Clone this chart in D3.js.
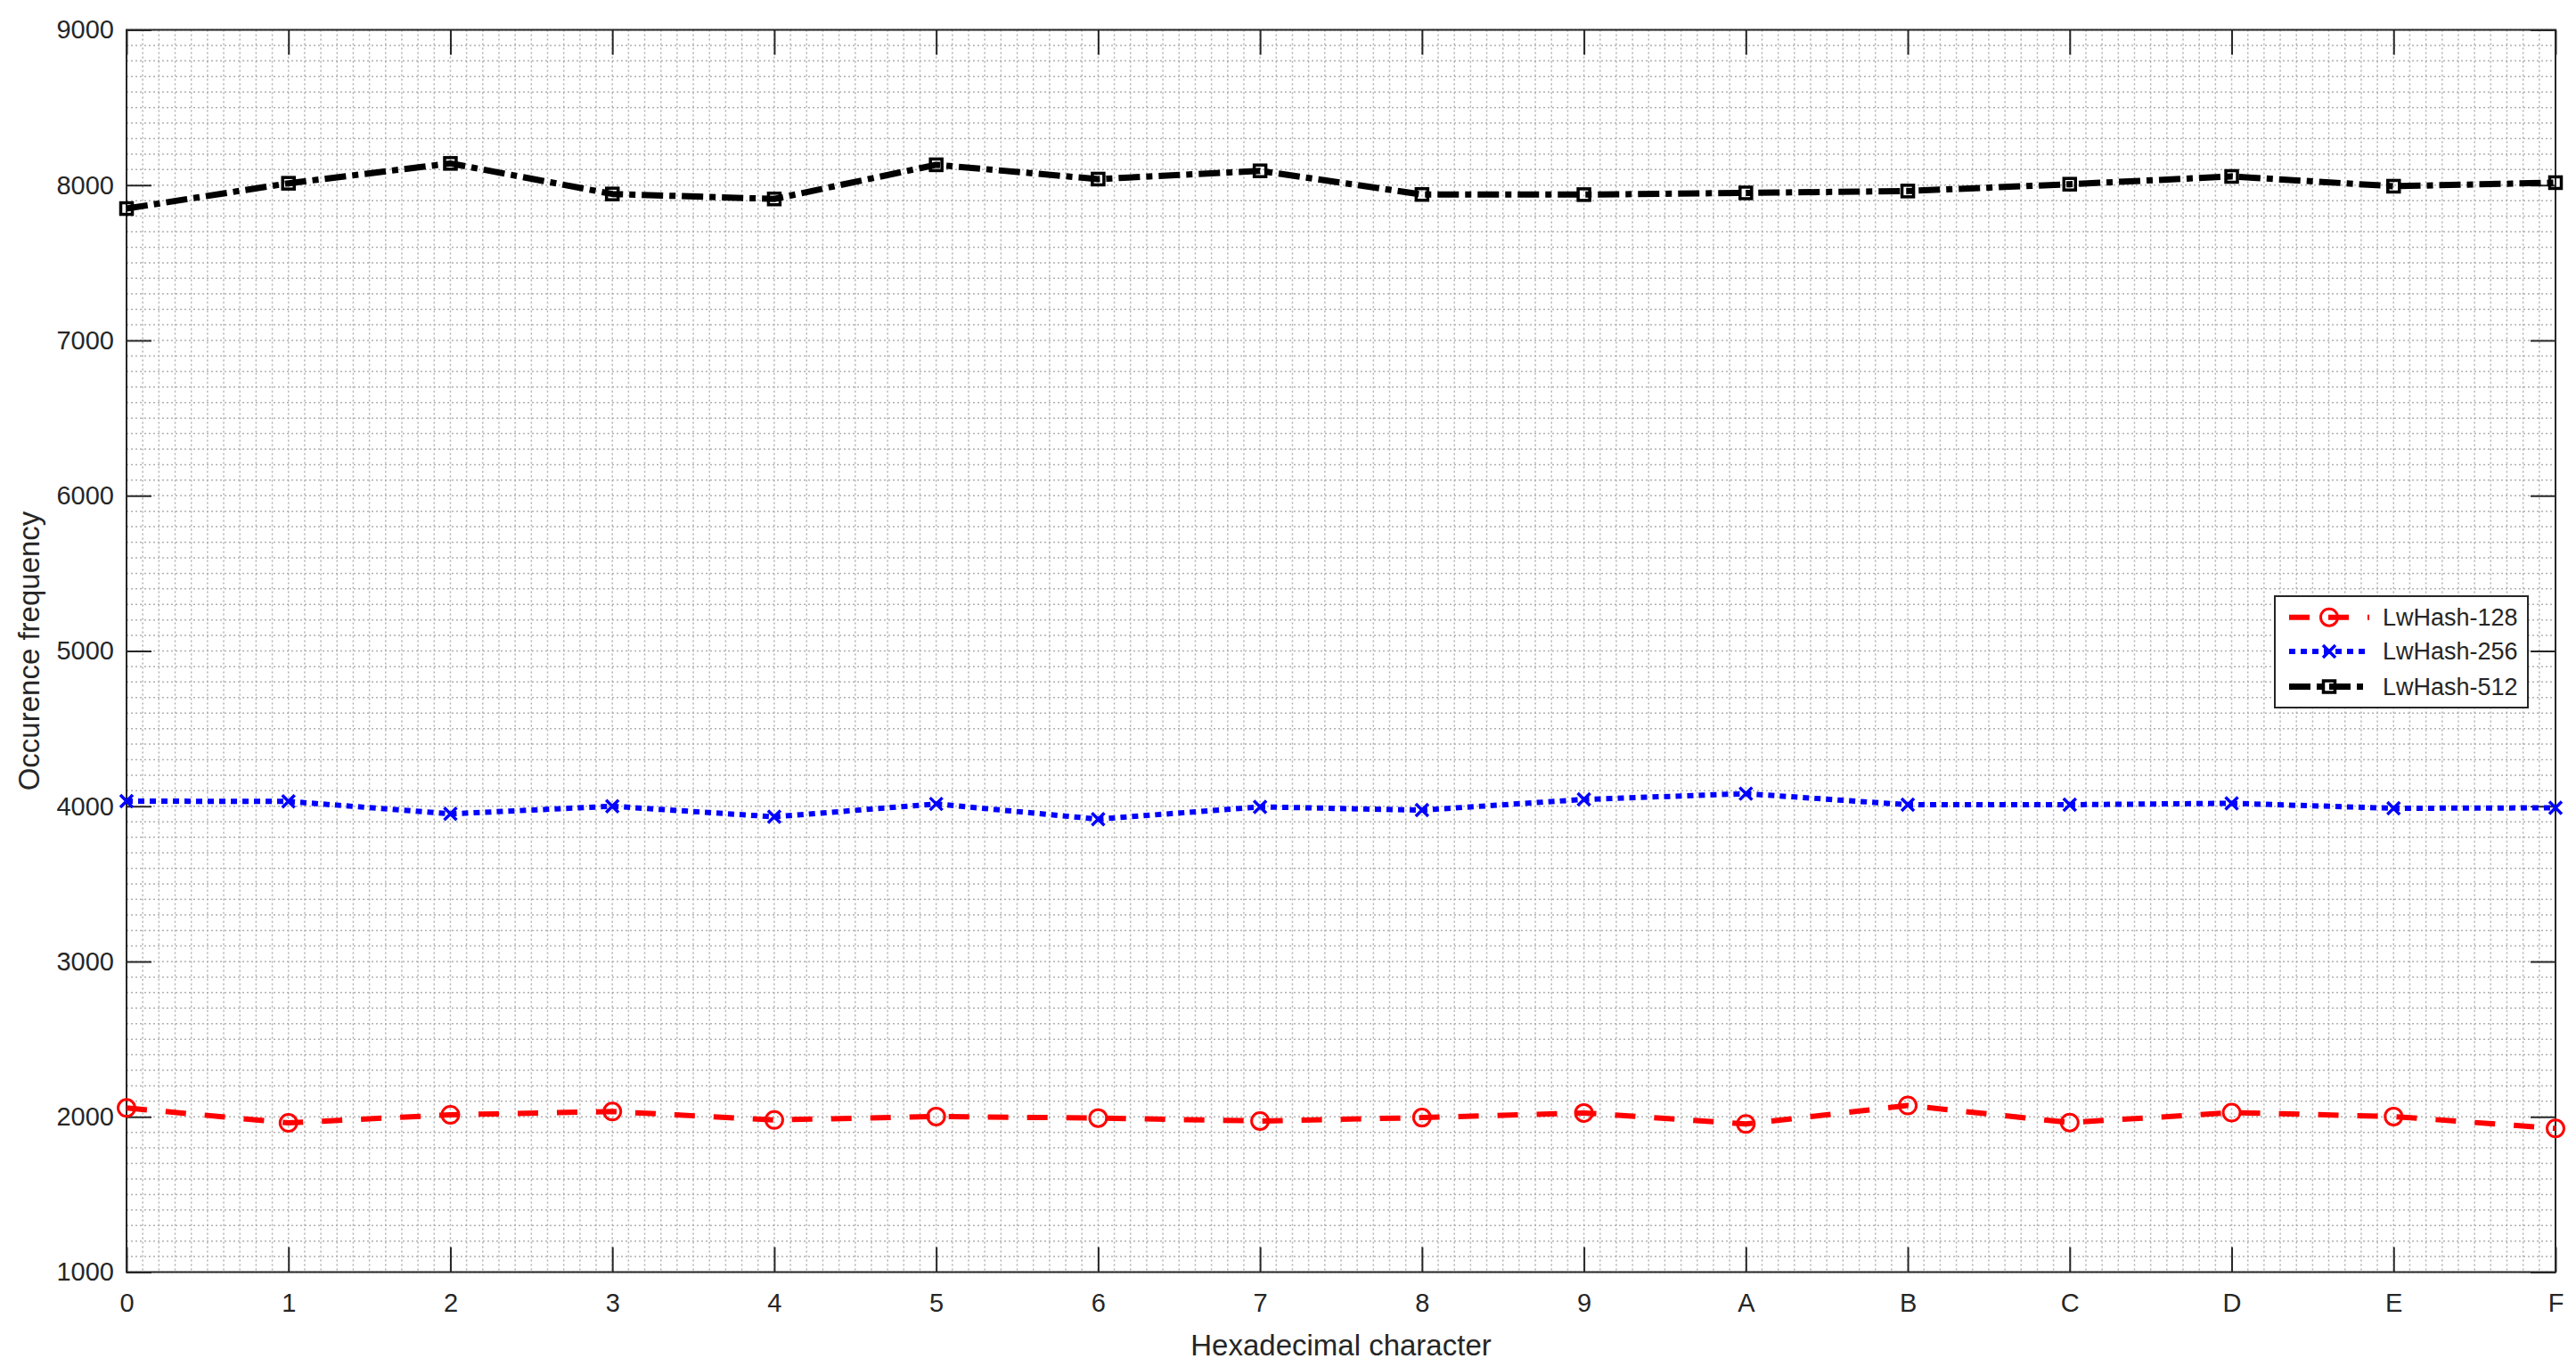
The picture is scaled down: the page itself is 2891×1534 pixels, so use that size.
<!DOCTYPE html>
<html>
<head>
<meta charset="utf-8">
<script src="https://cdn.jsdelivr.net/npm/d3@7"></script>
<style>
  html, body { margin: 0; padding: 0; background: #ffffff; }
  svg { display: block; }
  text { font-family: "Liberation Sans", Arial, Helvetica, sans-serif; fill: #262626; }
</style>
</head>
<body>
<script>
// ---- Data ----
const categories = ["0","1","2","3","4","5","6","7","8","9","A","B","C","D","E","F"];
const lwHash128 = [2057, 1961, 2013, 2034, 1980, 2002, 1992, 1973, 1995, 2025, 1954, 2073, 1963, 2027, 2002, 1925];
const lwHash256 = [4033, 4031, 3951, 4000, 3932, 4015, 3917, 3996, 3975, 4044, 4081, 4010, 4010, 4019, 3987, 3990];
const lwHash512 = [7849, 8012, 8140, 7943, 7911, 8131, 8039, 8092, 7940, 7939, 7950, 7962, 8006, 8056, 7993, 8016];
const seriesNames = ["LwHash-128", "LwHash-256", "LwHash-512"];
const yTicks = [1000, 2000, 3000, 4000, 5000, 6000, 7000, 8000, 9000];
const xLabel = "Hexadecimal character";
const yLabel = "Occurence frequency";

// ---- Layout ----
const W = 2891, H = 1534;
const L = 142, R = 2868, T = 33.5, B = 1427.5;
const axisColor = "#262626";

const svg = d3.select("body").append("svg").attr("width", W).attr("height", H);

const x = d3.scaleLinear().domain([0, categories.length - 1]).range([L, R]);
const y = d3.scaleLinear().domain([1000, 9000]).range([B, T]);

// ---- Grid (minor + major, dotted) ----
const grid = svg.append("g").attr("class", "grid");
const xMinor = d3.range(0, (categories.length - 1) * 10 + 1).map(i => i / 10);
const yMinor = d3.range(1000, 9001, 100);
grid.selectAll("line.vx").data(xMinor).join("line")
  .attr("x1", d => x(d)).attr("x2", d => x(d)).attr("y1", T).attr("y2", B)
  .attr("stroke", "#b0b0b0").attr("stroke-width", 1.5).attr("stroke-dasharray", "2,3");
grid.selectAll("line.hy").data(yMinor).join("line")
  .attr("y1", d => y(d)).attr("y2", d => y(d)).attr("x1", L).attr("x2", R)
  .attr("stroke", "#b0b0b0").attr("stroke-width", 1.5).attr("stroke-dasharray", "2,3");

// ---- Axes with inward ticks on all sides ----
const tickLen = 28;
const xAxisB = d3.axisBottom(x).tickValues(d3.range(categories.length))
  .tickFormat(i => categories[i]).tickSizeInner(-tickLen).tickSizeOuter(0).tickPadding(24);
const xAxisT = d3.axisTop(x).tickValues(d3.range(categories.length))
  .tickFormat("").tickSizeInner(-tickLen).tickSizeOuter(0);
const yAxisL = d3.axisLeft(y).tickValues(yTicks).tickFormat(d3.format("d"))
  .tickSizeInner(-tickLen).tickSizeOuter(0).tickPadding(14);
const yAxisR = d3.axisRight(y).tickValues(yTicks).tickFormat("")
  .tickSizeInner(-tickLen).tickSizeOuter(0);

function styleAxis(g) {
  g.selectAll("path.domain").remove();
  g.selectAll(".tick line").attr("stroke", axisColor).attr("stroke-width", 2);
  g.selectAll(".tick text").attr("fill", axisColor)
    .style("font-family", '"Liberation Sans", Arial, sans-serif').style("font-size", "29px");
}
svg.append("g").attr("transform", `translate(0,${B})`).call(xAxisB).call(styleAxis);
svg.append("g").attr("transform", `translate(0,${T})`).call(xAxisT).call(styleAxis);
svg.append("g").attr("transform", `translate(${L},0)`).call(yAxisL).call(styleAxis);
svg.append("g").attr("transform", `translate(${R},0)`).call(yAxisR).call(styleAxis);

// ---- Box ----
svg.append("rect").attr("x", L).attr("y", T).attr("width", R - L).attr("height", B - T)
  .attr("fill", "none").attr("stroke", axisColor).attr("stroke-width", 2);

// ---- Series ----
const series = [
  { name: seriesNames[0], values: lwHash128, color: "#ff0000", width: 6, dash: "23,21", marker: "circle" },
  { name: seriesNames[1], values: lwHash256, color: "#0000ff", width: 6, dash: "7,6", marker: "x" },
  { name: seriesNames[2], values: lwHash512, color: "#000000", width: 7, dash: "24,7,7,7", marker: "square" }
];

const line = d3.line().x((d, i) => x(i)).y(d => y(d));

function drawMarker(g, type, color, cx, cy) {
  if (type === "circle") {
    g.append("circle").attr("cx", cx).attr("cy", cy).attr("r", 9.5)
      .attr("fill", "none").attr("stroke", color).attr("stroke-width", 3);
  } else if (type === "x") {
    const s = 7;
    g.append("path").attr("d", `M${cx - s},${cy - s}L${cx + s},${cy + s}M${cx - s},${cy + s}L${cx + s},${cy - s}`)
      .attr("stroke", color).attr("stroke-width", 3.5).attr("fill", "none");
  } else {
    const s = 6.5;
    g.append("rect").attr("x", cx - s).attr("y", cy - s).attr("width", 2 * s).attr("height", 2 * s)
      .attr("fill", "none").attr("stroke", color).attr("stroke-width", 3.5);
  }
}

series.forEach(s => {
  const g = svg.append("g");
  g.append("path").datum(s.values).attr("d", line)
    .attr("fill", "none").attr("stroke", s.color).attr("stroke-width", s.width)
    .attr("stroke-dasharray", s.dash).attr("stroke-linejoin", "round");
  s.values.forEach((v, i) => drawMarker(g, s.marker, s.color, x(i), y(v)));
});

// ---- Axis labels ----
svg.append("text").attr("x", (L + R) / 2).attr("y", 1521).attr("text-anchor", "middle")
  .style("font-size", "33px").text(xLabel);
svg.append("text").attr("transform", `translate(44,${(T + B) / 2}) rotate(-90)`)
  .attr("text-anchor", "middle").style("font-size", "33px").text(yLabel);

// ---- Legend ----
const lg = svg.append("g");
lg.append("rect").attr("x", 2553).attr("y", 669).attr("width", 284).attr("height", 125)
  .attr("fill", "#ffffff").attr("stroke", axisColor).attr("stroke-width", 2);
const rowsY = [692.7, 731, 770.5];
series.forEach((s, i) => {
  const ry = rowsY[i];
  lg.append("line").attr("x1", 2569).attr("x2", 2659).attr("y1", ry).attr("y2", ry)
    .attr("stroke", s.color).attr("stroke-width", s.width).attr("stroke-dasharray", s.dash);
  drawMarker(lg, s.marker, s.color, 2614, ry);
  lg.append("text").attr("x", 2674).attr("y", ry).attr("dy", "0.35em")
    .style("font-size", "27px").text(s.name);
});
</script>
</body>
</html>
